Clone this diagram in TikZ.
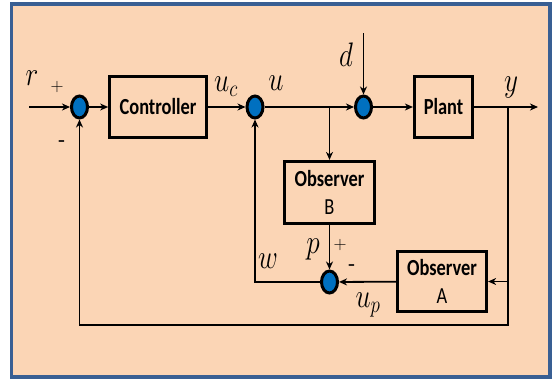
\documentclass[tikz,border=0pt]{standalone}
\usepackage{fix-cm}
\usepackage{fontspec}
\usetikzlibrary{arrows.meta,shapes.geometric}
\newfontfamily\boxfont{Carlito}[FakeStretch=0.8]
\definecolor{peach}{RGB}{251,213,181}
\definecolor{frameblue}{RGB}{57,95,147}
\definecolor{sumblue}{RGB}{0,112,192}
\newcommand\mlab[1]{\scalebox{0.8}[1]{$#1$}}
\begin{document}
\begin{tikzpicture}[x=1pt,y=-1pt,
  blk/.style={draw,line width=3.2pt,inner sep=0pt,align=center,
    font=\boxfont\fontsize{23}{28}\selectfont},
  sumj/.style={ellipse,draw,line width=3pt,fill=sumblue,inner sep=0pt,
    minimum width=16pt,minimum height=22pt},
  arr/.style={line width=1.8pt,-{Stealth[length=8pt,width=7pt,inset=2.5pt]}},
  mlabel/.style={inner sep=0pt,font=\fontsize{34}{34}\selectfont},
  sgn/.style={inner sep=0pt,font=\fontsize{18}{18}\selectfont},
  sgnb/.style={inner sep=0pt,font=\bfseries\fontsize{18}{18}\selectfont}]
\useasboundingbox (0,0) rectangle (557,380);
\draw[frameblue,line width=3.5pt,fill=peach] (11.5,4) rectangle (550,377);

% junctions and blocks
\node[sumj] (sum1) at (79.5,107) {};
\node[blk,minimum width=96.5pt,minimum height=60.5pt] (ctrl) at (158,107) {\textbf{Controller}};
\node[sumj] (sum2) at (255,107) {};
\node[sumj] (sum3) at (363.5,107) {};
\node[blk,minimum width=58pt,minimum height=61pt] (plant) at (443.5,107) {\textbf{Plant}};
\node[blk,minimum width=90pt,minimum height=62pt] (obsB) at (329.5,192.5) {\textbf{Observer}\\B};
\node[blk,minimum width=89pt,minimum height=60pt] (obsA) at (442,281.5) {\textbf{Observer}\\A};
\node[sumj] (sum4) at (329.5,282) {};

% free ends and corners
\coordinate (rin) at (29,107);
\coordinate (dtop) at (363.5,33);
\coordinate (yout) at (538,107);
\coordinate (bu) at (329.5,107);
\coordinate (yb) at (508,107);
\coordinate (ya) at (508,281.5);
\coordinate (ybot) at (508,325);

% connectors
\draw[arr] (rin) -- (sum1);
\draw[arr] (sum1) -- (ctrl);
\draw[arr] (ctrl) -- (sum2);
\draw[arr] (sum2) -- (sum3);
\draw[arr] (bu) -- (obsB);
\draw[arr] (dtop) -- (sum3);
\draw[arr] (sum3) -- (plant);
\draw[arr] (plant) -- (yout);
\draw[arr] (yb) -- (ybot) -| (sum1);
\draw[arr] (ya) -- (obsA);
\draw[arr] (obsA) -- (sum4);
\draw[arr] (obsB) -- (sum4);
\draw[arr] (sum4) -| (sum2);

% labels
\node[mlabel] (lr) at (32,78) {\mlab{r}};
\node[sgn] (lp1) at (57,87) {+};
\node[sgnb] (lm1) at (62,143) {-};
\node[mlabel] (luc) at (226,87) {\mlab{u_c}};
\node[mlabel] (lu) at (276,83) {\mlab{u}};
\node[mlabel] (ld) at (346,55) {\mlab{d}};
\node[mlabel] (ly) at (511,87) {\mlab{y}};
\node[mlabel] (lpp) at (313,249) {\mlab{p}};
\node[sgn] (lp2) at (340,245) {+};
\node[sgnb] (lm2) at (352,267) {-};
\node[mlabel] (lw) at (268,261) {\mlab{w}};
\node[mlabel] (lup) at (368,305) {\mlab{u_p}};
\end{tikzpicture}
\end{document}
